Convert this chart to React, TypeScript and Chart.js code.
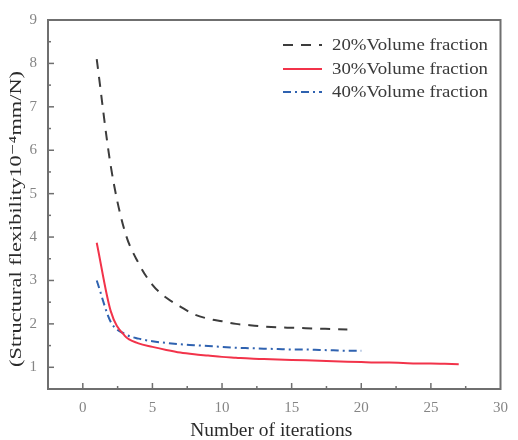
import React, { useEffect, useRef } from "react";
import { Chart, registerables } from "chart.js";

Chart.register(...registerables);

const iterations20 = [1, 2, 3, 4, 5, 6, 7, 8, 9, 10, 11, 12, 13, 14, 15, 16, 17, 18, 19];
const values20 = [8.1, 5.65, 4.15, 3.4, 2.9, 2.6, 2.4, 2.22, 2.12, 2.06, 2.0, 1.97, 1.94, 1.92, 1.91, 1.9, 1.89, 1.88, 1.87];

const iterations30 = [1, 2, 3, 4, 5, 6, 7, 8, 9, 10, 11, 12, 13, 14, 15, 16, 17, 18, 19, 20, 21, 22, 23, 24, 25, 26, 27];
const values30 = [3.87, 2.3, 1.73, 1.55, 1.47, 1.4, 1.34, 1.3, 1.27, 1.24, 1.22, 1.2, 1.19, 1.18, 1.17, 1.16, 1.15, 1.14, 1.13, 1.12, 1.11, 1.11, 1.1, 1.09, 1.09, 1.08, 1.07];

const iterations40 = [1, 2, 3, 4, 5, 6, 7, 8, 9, 10, 11, 12, 13, 14, 15, 16, 17, 18, 19, 20];
const values40 = [3.0, 2.05, 1.77, 1.66, 1.6, 1.56, 1.53, 1.51, 1.49, 1.47, 1.45, 1.44, 1.43, 1.42, 1.41, 1.41, 1.4, 1.39, 1.38, 1.38];

const seriesLabels = ["20%Volume fraction", "30%Volume fraction", "40%Volume fraction"];
const xTicks = [0, 5, 10, 15, 20, 25, 30];
const yTicks = [1, 2, 3, 4, 5, 6, 7, 8, 9];
const xTitle = "Number of iterations";
const yTitle = "(Structural flexibility10\u207B\u2074mm/N)";

const SERIF = "'Liberation Serif', 'DejaVu Serif', serif";
const AXIS_COLOR = "#6f6f6f";
const TEXT_COLOR = "#2a2a2a";

const toPoints = (xs: number[], ys: number[]) => xs.map((x, i) => ({ x, y: ys[i] }));

// draws text with a horizontal stretch so that it spans the given width
function fitText(ctx: CanvasRenderingContext2D, text: string, x: number, y: number, width: number, align: "left" | "center") {
  const w = ctx.measureText(text).width;
  const s = width / w;
  ctx.save();
  ctx.translate(x, y);
  ctx.scale(s, 1);
  ctx.textAlign = align;
  ctx.fillText(text, 0, 0);
  ctx.restore();
}

const frameAndTicks = {
  id: "frameAndTicks",
  afterDatasetsDraw(chart: any) {
    const { ctx, chartArea, scales } = chart;
    const { left, right, top, bottom } = chartArea;
    ctx.save();
    ctx.strokeStyle = AXIS_COLOR;
    ctx.lineWidth = 2;
    ctx.strokeRect(left, top, right - left, bottom - top);
    ctx.lineWidth = 1.5;
    const xs = scales.x;
    const ys = scales.y;
    for (let v = -2.5; v <= 30; v += 2.5) {
      const px = xs.getPixelForValue(v);
      if (px < left + 1 || px > right - 1) continue;
      const major = Math.abs(v % 5) < 1e-9;
      const len = major ? 6 : 3;
      ctx.beginPath();
      ctx.moveTo(px, bottom);
      ctx.lineTo(px, bottom - len);
      ctx.stroke();
    }
    for (let v = 0.5; v <= 9; v += 0.5) {
      const py = ys.getPixelForValue(v);
      if (py > bottom - 1 || py < top + 1) continue;
      const major = Math.abs(v % 1) < 1e-9;
      const len = major ? 6 : 3;
      ctx.beginPath();
      ctx.moveTo(left, py);
      ctx.lineTo(left + len, py);
      ctx.stroke();
    }
    ctx.restore();
  },
};

const titlesPlugin = {
  id: "titlesPlugin",
  afterDraw(chart: any) {
    const { ctx, chartArea } = chart;
    ctx.save();
    ctx.fillStyle = TEXT_COLOR;
    ctx.textBaseline = "middle";
    ctx.font = `18px ${SERIF}`;
    fitText(ctx, xTitle, (chartArea.left + chartArea.right) / 2 - 3, 431, 162, "center");
    ctx.translate(17, 219);
    ctx.rotate(-Math.PI / 2);
    ctx.font = `17px ${SERIF}`;
    fitText(ctx, yTitle, 0, 0, 296, "center");
    ctx.restore();
  },
};

const insideLegend = {
  id: "insideLegend",
  afterDraw(chart: any) {
    const { ctx } = chart;
    const x0 = 283;
    const x1 = 322;
    const tx = 332;
    const rows = [45, 69, 92];
    ctx.save();
    chart.data.datasets.forEach((ds: any, i: number) => {
      const y = rows[i];
      ctx.strokeStyle = ds.borderColor;
      ctx.lineWidth = ds.borderWidth;
      ctx.setLineDash(ds.borderDash || []);
      ctx.beginPath();
      ctx.moveTo(x0, y);
      ctx.lineTo(x1, y);
      ctx.stroke();
      ctx.setLineDash([]);
      ctx.fillStyle = "#3a3a3a";
      ctx.font = `17px ${SERIF}`;
      ctx.textBaseline = "middle";
      fitText(ctx, ds.label, tx, y + 1, 156, "left");
    });
    ctx.restore();
  },
};

export default function App() {
  const ref = useRef<HTMLCanvasElement | null>(null);

  useEffect(() => {
    if (!ref.current) return;
    const chart = new Chart(ref.current, {
      type: "line",
      data: {
        datasets: [
          {
            label: seriesLabels[0],
            data: toPoints(iterations20, values20),
            borderColor: "#3c3c3c",
            borderWidth: 2,
            borderDash: [10, 8],
            pointRadius: 0,
            cubicInterpolationMode: "monotone",
            fill: false,
          },
          {
            label: seriesLabels[1],
            data: toPoints(iterations30, values30),
            borderColor: "#f2334a",
            borderWidth: 2,
            pointRadius: 0,
            cubicInterpolationMode: "monotone",
            fill: false,
          },
          {
            label: seriesLabels[2],
            data: toPoints(iterations40, values40),
            borderColor: "#2f62b0",
            borderWidth: 2,
            borderDash: [8, 4, 2, 4],
            pointRadius: 0,
            cubicInterpolationMode: "monotone",
            fill: false,
          },
        ],
      },
      options: {
        responsive: false,
        animation: false,
        layout: { padding: { left: 0, top: 17, right: 8, bottom: 0 } },
        plugins: {
          legend: { display: false },
          tooltip: { enabled: false },
        },
        scales: {
          x: {
            type: "linear",
            min: -2.5,
            max: 30,
            afterBuildTicks: (scale: any) => {
              scale.ticks = xTicks.map((v) => ({ value: v }));
            },
            afterFit: (scale: any) => {
              scale.height = 51;
            },
            grid: { display: false, drawTicks: false },
            border: { display: false },
            ticks: {
              color: "#858585",
              font: { family: SERIF, size: 15 },
              padding: 10,
              maxRotation: 0,
            },
          },
          y: {
            type: "linear",
            min: 0.5,
            max: 9,
            afterBuildTicks: (scale: any) => {
              scale.ticks = yTicks.map((v) => ({ value: v }));
            },
            afterFit: (scale: any) => {
              scale.width = 48;
            },
            grid: { display: false, drawTicks: false },
            border: { display: false },
            ticks: {
              color: "#858585",
              font: { family: SERIF, size: 15 },
              padding: 11,
            },
          },
        },
      },
      plugins: [frameAndTicks, titlesPlugin, insideLegend],
    });
    return () => chart.destroy();
  }, []);

  return (
    <div style={{ position: "fixed", left: 0, top: 0, width: 518, height: 440, background: "#fff" }}>
      <canvas ref={ref} width={518} height={440} style={{ display: "block" }} />
    </div>
  );
}
